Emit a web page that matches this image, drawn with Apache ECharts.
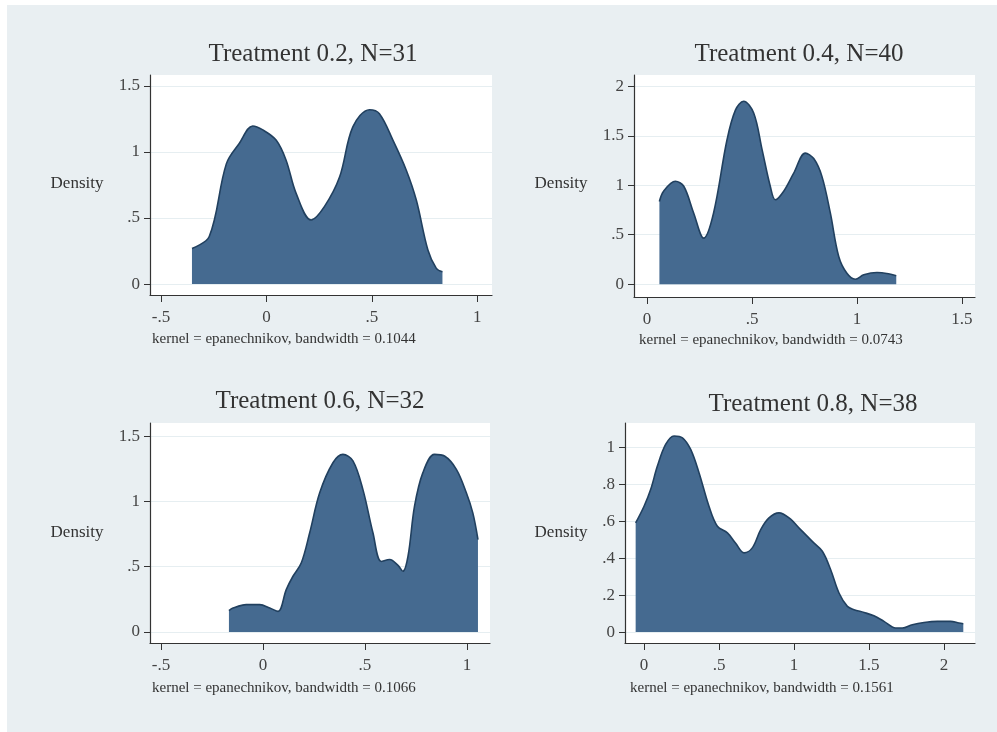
<!DOCTYPE html>
<html>
<head>
<meta charset="utf-8">
<script src="https://cdn.jsdelivr.net/npm/echarts@6/dist/echarts.min.js"></script>
<style>
  html, body { margin: 0; padding: 0; background: #ffffff; }
  #chart { width: 997px; height: 732px; }
</style>
</head>
<body>
<div id="chart"></div>
<script>
// Kernel density estimates (epanechnikov) of the outcome, one panel per treatment.
const titles = ['Treatment 0.2, N=31', 'Treatment 0.4, N=40', 'Treatment 0.6, N=32', 'Treatment 0.8, N=38'];
const notes = [
  'kernel = epanechnikov, bandwidth = 0.1044',
  'kernel = epanechnikov, bandwidth = 0.0743',
  'kernel = epanechnikov, bandwidth = 0.1066',
  'kernel = epanechnikov, bandwidth = 0.1561'
];
const yTitle = 'Density';

// Treatment 0.2
const t02X = [-0.353, -0.271, -0.19, -0.128, -0.065, -0.017, 0.046, 0.093, 0.141, 0.212, 0.275, 0.347, 0.41, 0.489, 0.536, 0.6, 0.663, 0.711, 0.766, 0.806, 0.835];
const t02Y = [0.27, 0.36, 0.91, 1.066, 1.197, 1.167, 1.09, 0.94, 0.687, 0.485, 0.586, 0.81, 1.19, 1.32, 1.29, 1.09, 0.864, 0.636, 0.258, 0.119, 0.093];

// Treatment 0.4
const t04X = [0.059, 0.079, 0.135, 0.175, 0.222, 0.27, 0.317, 0.381, 0.421, 0.46, 0.508, 0.548, 0.587, 0.611, 0.651, 0.698, 0.754, 0.794, 0.833, 0.873, 0.913, 0.952, 0.992, 1.032, 1.095, 1.15, 1.187];
const t04Y = [0.836, 0.94, 1.04, 0.99, 0.72, 0.465, 0.72, 1.46, 1.76, 1.85, 1.73, 1.36, 0.99, 0.853, 0.94, 1.12, 1.325, 1.27, 1.09, 0.72, 0.28, 0.11, 0.05, 0.094, 0.118, 0.105, 0.084];

// Treatment 0.6
const t06X = [-0.167, -0.147, -0.082, -0.016, 0.033, 0.074, 0.114, 0.147, 0.188, 0.229, 0.278, 0.343, 0.392, 0.441, 0.49, 0.539, 0.58, 0.621, 0.662, 0.686, 0.711, 0.743, 0.784, 0.841, 0.89, 0.948, 0.997, 1.029, 1.054];
const t06Y = [0.164, 0.184, 0.21, 0.21, 0.184, 0.158, 0.325, 0.427, 0.53, 0.76, 1.066, 1.296, 1.36, 1.31, 1.09, 0.76, 0.54, 0.555, 0.51, 0.465, 0.58, 0.963, 1.22, 1.36, 1.347, 1.245, 1.066, 0.91, 0.708];

// Treatment 0.8
const t08X = [-0.056, 0, 0.044, 0.089, 0.144, 0.2, 0.256, 0.311, 0.367, 0.433, 0.489, 0.556, 0.611, 0.667, 0.722, 0.778, 0.833, 0.9, 0.967, 1.044, 1.122, 1.189, 1.244, 1.3, 1.356, 1.4, 1.467, 1.533, 1.6, 1.678, 1.722, 1.789, 1.867, 1.956, 2.044, 2.1, 2.129];
const t08Y = [0.59, 0.68, 0.77, 0.897, 1.014, 1.06, 1.05, 0.987, 0.86, 0.68, 0.572, 0.536, 0.48, 0.428, 0.455, 0.554, 0.617, 0.644, 0.617, 0.554, 0.49, 0.437, 0.338, 0.211, 0.139, 0.121, 0.106, 0.088, 0.058, 0.022, 0.022, 0.04, 0.052, 0.058, 0.058, 0.049, 0.045];

// Tick values per panel
const xTicks = [[-0.5, 0, 0.5, 1], [0, 0.5, 1, 1.5], [-0.5, 0, 0.5, 1], [0, 0.5, 1, 1.5, 2]];
const yTicks = [[0, 0.5, 1, 1.5], [0, 0.5, 1, 1.5, 2], [0, 0.5, 1, 1.5], [0, 0.2, 0.4, 0.6, 0.8, 1]];

const seriesX = [t02X, t04X, t06X, t08X];
const seriesY = [t02Y, t04Y, t06Y, t08Y];

// Panel geometry (pixels) and axis extents
const layout = [
  { left: 150, top: 75, width: 342, height: 220, xMin: -0.552, xMax: 1.07, yMin: -0.083, yMax: 1.583,
    title: [313, 54], ylab: [77, 184], note: [152, 339] },
  { left: 634, top: 75, width: 341, height: 222, xMin: -0.062, xMax: 1.562, yMin: -0.13, yMax: 2.115,
    title: [799, 54], ylab: [561, 184], note: [639, 340] },
  { left: 150, top: 423, width: 340, height: 220, xMin: -0.554, xMax: 1.113, yMin: -0.084, yMax: 1.6,
    title: [320, 401], ylab: [77, 533], note: [152, 688] },
  { left: 625, top: 423, width: 350, height: 220, xMin: -0.127, xMax: 2.207, yMin: -0.059, yMax: 1.13,
    title: [813, 404], ylab: [561, 533], note: [630, 688] }
];

const SERIF = '"Liberation Serif", "Times New Roman", serif';
const fmt = v => {
  const s = String(Math.round(v * 100) / 100);
  return s.replace(/^0\./, '.').replace(/^-0\./, '-.');
};

const grids = [], xAxes = [], yAxes = [], series = [], graphics = [];

// light background band with a thin white margin at top and left
graphics.push({ type: 'rect', shape: { x: 7, y: 5, width: 990, height: 727 }, style: { fill: '#e9eff2' }, z: -10 });

layout.forEach((p, i) => {
  grids.push({ left: p.left, top: p.top, width: p.width, height: p.height, show: true,
    backgroundColor: '#ffffff', borderWidth: 0 });
  xAxes.push({
    type: 'value', gridIndex: i, min: p.xMin, max: p.xMax,
    axisLine: { show: true, onZero: false, lineStyle: { color: '#333', width: 1.2 } },
    axisTick: { show: true, length: 7, customValues: xTicks[i], lineStyle: { color: '#333' } },
    axisLabel: { customValues: xTicks[i], formatter: fmt, color: '#444', fontFamily: SERIF, fontSize: 17, margin: 14 },
    splitLine: { show: false }
  });
  yAxes.push({
    type: 'value', gridIndex: i, min: p.yMin, max: p.yMax,
    axisLine: { show: true, onZero: false, lineStyle: { color: '#333', width: 1.2 } },
    axisTick: { show: true, length: 6, customValues: yTicks[i], lineStyle: { color: '#333' } },
    axisLabel: { customValues: yTicks[i], formatter: fmt, color: '#444', fontFamily: SERIF, fontSize: 17, margin: 10 },
    splitLine: { show: true, lineStyle: { color: '#e6eef1', width: 1 } }
  });
  series.push({
    type: 'line', xAxisIndex: i, yAxisIndex: i,
    data: seriesX[i].map((x, k) => [x, seriesY[i][k]]),
    smooth: 0.35, showSymbol: false, symbol: 'none',
    lineStyle: { color: '#21405f', width: 1.6 },
    areaStyle: { color: '#456a90', opacity: 1, origin: 0 },
    silent: true
  });
  graphics.push({ type: 'text', x: p.title[0], y: p.title[1],
    style: { text: titles[i], fill: '#333', font: '25px ' + SERIF, textAlign: 'center', textVerticalAlign: 'middle' } });
  graphics.push({ type: 'text', x: p.ylab[0], y: p.ylab[1],
    style: { text: yTitle, fill: '#333', font: '17px ' + SERIF, textAlign: 'center', textVerticalAlign: 'middle' } });
  graphics.push({ type: 'text', x: p.note[0], y: p.note[1],
    style: { text: notes[i], fill: '#333', font: '15px ' + SERIF, textAlign: 'left', textVerticalAlign: 'middle' } });
});

const chart = echarts.init(document.getElementById('chart'), null, { renderer: 'canvas' });
chart.setOption({
  animation: false,
  backgroundColor: '#ffffff',
  grid: grids, xAxis: xAxes, yAxis: yAxes, series: series,
  graphic: graphics
});
</script>
</body>
</html>
